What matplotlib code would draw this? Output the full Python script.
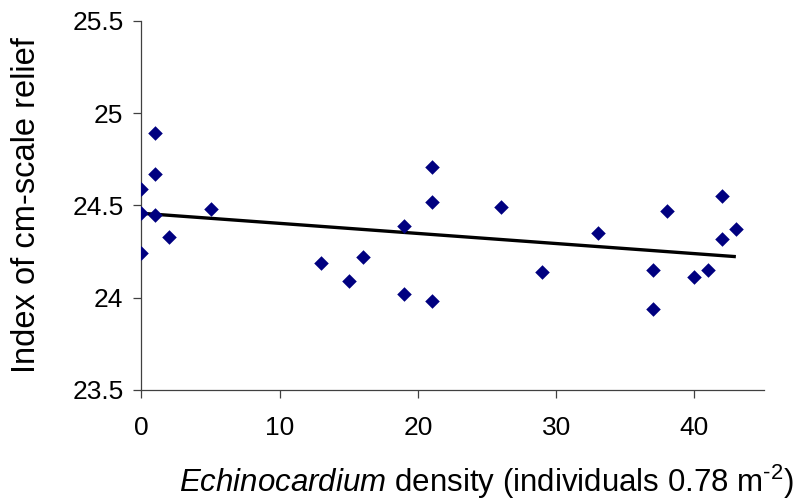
import numpy as np
import matplotlib
matplotlib.use("Agg")
import matplotlib.pyplot as plt

plt.rcParams['font.family'] = ['Liberation Sans', 'DejaVu Sans']
plt.rcParams['mathtext.fontset'] = 'custom'
plt.rcParams['mathtext.rm'] = 'Liberation Sans'
plt.rcParams['mathtext.it'] = 'Liberation Sans:italic'
plt.rcParams['mathtext.bf'] = 'Liberation Sans:bold'

density = [0, 0, 0, 1, 1, 1, 2, 5, 13, 15, 16, 19, 19, 21, 21, 21, 26, 29,
           33, 37, 37, 38, 40, 41, 42, 42, 43]
relief = [24.59, 24.46, 24.24, 24.89, 24.67, 24.45, 24.33, 24.48, 24.19, 24.09,
          24.22, 24.39, 24.02, 24.71, 24.52, 23.98, 24.49, 24.14,
          24.35, 24.15, 23.94, 24.47, 24.11, 24.15, 24.55, 24.32, 24.37]
x_ticks = [0, 10, 20, 30, 40]
y_ticks = [23.5, 24, 24.5, 25, 25.5]
y_tick_labels = ['23.5', '24', '24.5', '25', '25.5']

fig = plt.figure(figsize=(8.02, 5.04), dpi=100)
ax = fig.add_axes([0.1764, 0.2262, 0.7756, 0.7326])

ax.scatter(density, relief, marker='D', s=55, color='#000080', zorder=3,
           linewidths=0)

coef = np.polyfit(density, relief, 1)
xs = np.array([min(density), max(density)])
ax.plot(xs, np.polyval(coef, xs), color='black', lw=2.4, zorder=2,
        solid_capstyle='butt')

ax.set_xlim(0, 45)
ax.set_ylim(23.5, 25.5)
ax.set_xticks(x_ticks)
ax.set_yticks(y_ticks)
ax.set_yticklabels(y_tick_labels)

for s in ['top', 'right']:
    ax.spines[s].set_visible(False)
for s in ['left', 'bottom']:
    ax.spines[s].set_color('#404040')
    ax.spines[s].set_linewidth(0.9)

ax.tick_params(axis='both', direction='out', length=6, width=0.9,
               color='#404040', labelsize=19)
ax.tick_params(axis='y', pad=7)
ax.tick_params(axis='x', pad=13)

ax.set_xlabel('$\\it{Echinocardium}$ density (individuals 0.78 m$^{\\mathrm{\u2010}2}$)',
              fontsize=22.5, labelpad=16)
ax.xaxis.label.set_x(0.554)
ax.set_ylabel('Index of cm-scale relief', fontsize=23.5, labelpad=22)

fig.savefig('out.png', dpi=100)
